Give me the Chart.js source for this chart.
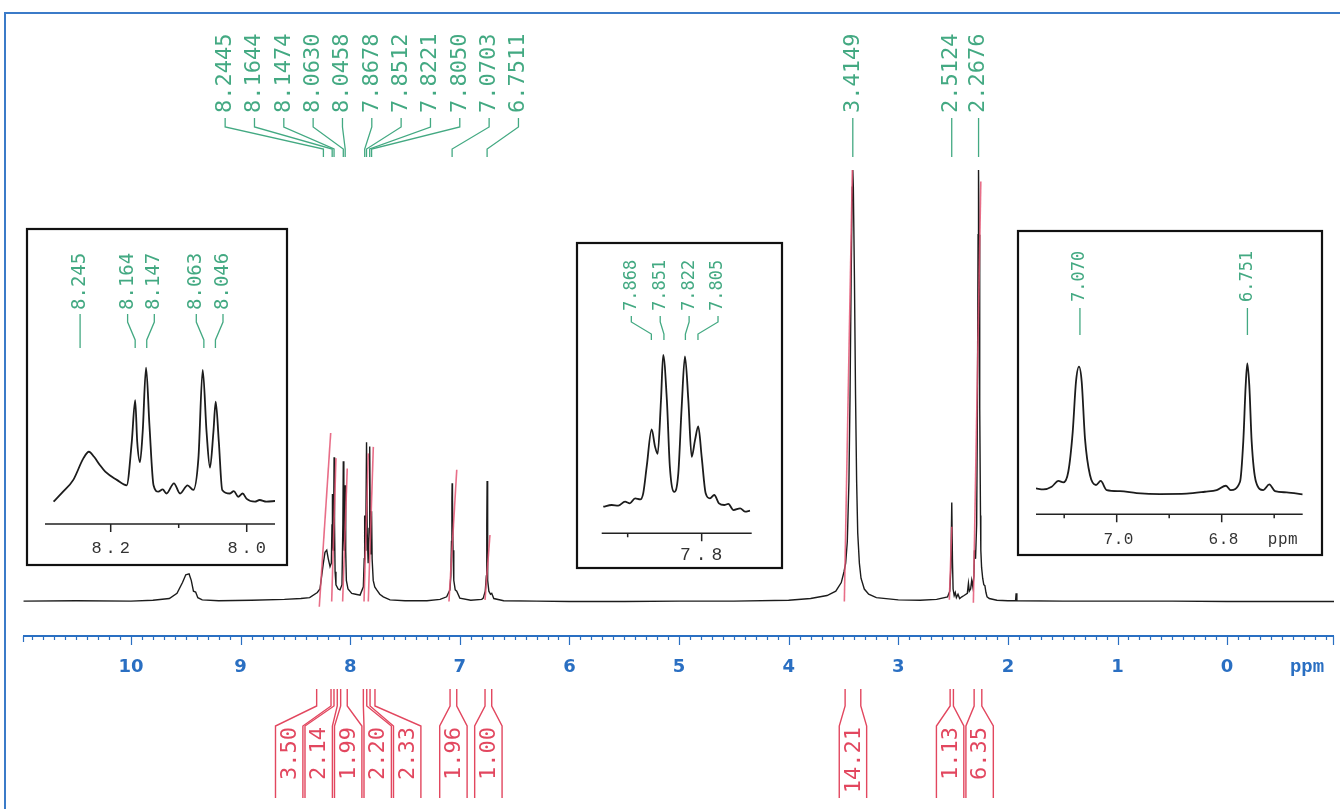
<!DOCTYPE html>
<html>
<head>
<meta charset="utf-8">
<title>1H NMR</title>
<script src="https://cdn.jsdelivr.net/npm/chart.js@4.4.1/dist/chart.umd.min.js"></script>
<style>
  html, body { margin: 0; padding: 0; background: #fff; }
  #page { position: relative; width: 1340px; height: 809px; overflow: hidden; }
  #page canvas { position: absolute; left: 0; top: 0; }
</style>
</head>
<body>
<div id="page">
  <canvas id="spectrum" width="1340" height="809"></canvas>
  <canvas id="zoom1" width="1340" height="809"></canvas>
  <canvas id="zoom2" width="1340" height="809"></canvas>
  <canvas id="zoom3" width="1340" height="809"></canvas>
</div>
<script>
// ---- spectre complet (ppm / intensité relative, 100 = pic 3.41) ----
const mainPpm = [10.98, 10.5, 10.0, 9.8, 9.65, 9.58, 9.53, 9.50, 9.47, 9.45, 9.43, 9.41, 9.39, 9.35, 9.2, 8.9, 8.6, 8.45, 8.37, 8.30, 8.276, 8.245, 8.23, 8.214, 8.20, 8.184, 8.172, 8.166, 8.164, 8.160, 8.155, 8.150, 8.147, 8.143, 8.138, 8.13, 8.11, 8.093, 8.075, 8.067, 8.063, 8.058, 8.054, 8.050, 8.046, 8.041, 8.035, 8.02, 7.986, 7.95, 7.91, 7.88, 7.872, 7.868, 7.862, 7.857, 7.851, 7.845, 7.836, 7.828, 7.822, 7.816, 7.811, 7.805, 7.800, 7.79, 7.776, 7.758, 7.73, 7.698, 7.637, 7.5, 7.3, 7.18, 7.12, 7.09, 7.082, 7.076, 7.072, 7.070, 7.067, 7.062, 7.055, 7.042, 7.028, 7.0, 6.9, 6.80, 6.786, 6.768, 6.758, 6.754, 6.751, 6.748, 6.744, 6.735, 6.72, 6.709, 6.69, 6.6, 6.3, 6.0, 5.5, 5.0, 4.5, 4.0, 3.8, 3.65, 3.57, 3.52, 3.495, 3.48, 3.465, 3.45, 3.44, 3.43, 3.42, 3.415, 3.41, 3.40, 3.39, 3.38, 3.37, 3.355, 3.34, 3.31, 3.27, 3.2, 3.0, 2.8, 2.65, 2.55, 2.53, 2.52, 2.512, 2.506, 2.50, 2.49, 2.48, 2.47, 2.455, 2.44, 2.42, 2.40, 2.37, 2.36, 2.352, 2.34, 2.33, 2.32, 2.31, 2.305, 2.295, 2.285, 2.278, 2.272, 2.268, 2.263, 2.257, 2.25, 2.247, 2.24, 2.23, 2.22, 2.21, 2.20, 2.19, 2.17, 2.1, 2.0, 1.93, 1.925, 1.918, 1.5, 1.0, 0.5, 0.0, -0.975];
const mainInt = [0.2, 0.3, 0.2, 0.4, 0.8, 2, 4.5, 6.3, 6.5, 5, 2.5, 2.3, 1, 0.5, 0.3, 0.4, 0.6, 0.8, 1, 2.2, 3, 9, 11.5, 12, 10, 8.2, 9, 18, 25, 14, 12, 22, 33.5, 18, 7, 4, 3, 2.8, 4, 18, 32.6, 16, 12, 17, 27, 12, 5, 3, 2, 1.8, 1.6, 3.5, 10, 20, 12, 18, 37, 16, 9, 17, 36, 16, 11, 21, 10, 5, 3.5, 2.8, 1.8, 1.2, 0.5, 0.3, 0.3, 0.6, 1.2, 2.8, 6, 14, 24, 27.5, 24, 12, 5, 2.8, 2.5, 0.9, 0.4, 0.6, 0.9, 2.5, 6, 18, 28, 18, 5, 2.5, 1.8, 2, 0.8, 0.3, 0.2, 0.1, 0.1, 0.2, 0.2, 0.4, 0.8, 1.5, 2.5, 4.5, 7, 9, 14, 28, 48, 75, 96, 100, 96, 75, 48, 28, 16, 9, 5.5, 3, 1.8, 1, 0.5, 0.4, 0.6, 1.2, 2.5, 8, 23, 10, 3, 1.5, 2.2, 1, 1.8, 0.8, 1.2, 1.5, 2, 4.3, 2.5, 3, 5, 3.5, 6, 12, 10, 18, 45, 85, 100, 85, 45, 20, 12, 8, 5.5, 4, 3.8, 2.2, 1.2, 0.8, 0.4, 0.3, 0.3, 2, 0.3, 0.2, 0.2, 0.2, 0.1, 0.1];

// courbes d'intégration (début / fin)
const curveStartPpm = [8.282, 8.169, 8.069, 7.874, 7.835, 7.099, 6.770, 3.492, 2.534, 2.315];
const curveStartVal = [-1.1, 0.1, 0.1, 0.1, 0.1, 0.1, 0.5, 0.1, 0.5, -0.2];
const curveEndPpm = [8.178, 8.130, 8.027, 7.835, 7.789, 7.028, 6.725, 3.419, 2.512, 2.247];
const curveEndVal = [39.1, 33.3, 30.9, 34.4, 35.9, 30.6, 15.5, 100, 17.4, 97.3];

// intégrales (bornes en ppm + valeurs)
const integralFrom = [8.306, 8.148, 8.087, 7.880, 7.819, 7.089, 6.770, 3.485, 2.527, 2.308];
const integralTo = [8.175, 8.118, 8.027, 7.849, 7.774, 7.028, 6.709, 3.342, 2.497, 2.238];
const integralValues = [3.50, 2.14, 1.99, 2.20, 2.33, 1.96, 1.00, 14.21, 1.13, 6.35];

// pics annotés
const aromaticPeaks = [8.2445, 8.1644, 8.1474, 8.0630, 8.0458, 7.8678, 7.8512, 7.8221, 7.8050, 7.0703, 6.7511];
const aliphaticPeaks = [3.4149, 2.5124, 2.2676];
const mainTicks = [10, 9, 8, 7, 6, 5, 4, 3, 2, 1, 0];

// ---- zoom 1 : 8.3 - 7.95 ppm ----
const zoom1Ppm = [8.284, 8.270, 8.255, 8.240, 8.232, 8.2245, 8.216, 8.208, 8.191, 8.1765, 8.169, 8.164, 8.161, 8.157, 8.153, 8.148, 8.143, 8.137, 8.130, 8.1235, 8.118, 8.107, 8.098, 8.087, 8.0785, 8.071, 8.0647, 8.059, 8.054, 8.049, 8.0456, 8.041, 8.036, 8.0246, 8.019, 8.0125, 8.006, 8.000, 7.988, 7.981, 7.971, 7.958];
const zoom1Int = [1, 8.3, 17, 33, 37.7, 34, 28, 23, 17, 13, 45, 75.7, 45, 30, 52, 99.5, 57, 13, 8.3, 10, 7, 14.5, 7, 13, 9.6, 33, 97.8, 52, 26, 52, 74.5, 45, 9.6, 7, 8.8, 4.6, 7, 3, 1, 2.2, 1, 1.5];
const zoom1Peaks = [8.245, 8.164, 8.147, 8.063, 8.046];
const zoom1Ticks = [8.2, 8.0];
const zoom1Minor = [8.1];

// ---- zoom 2 : 7.93 - 7.73 ppm ----
const zoom2Ppm = [7.933, 7.9216, 7.9127, 7.9036, 7.897, 7.890, 7.883, 7.879, 7.8743, 7.8676, 7.863, 7.8595, 7.855, 7.852, 7.847, 7.843, 7.837, 7.8316, 7.827, 7.8226, 7.818, 7.8135, 7.809, 7.8046, 7.800, 7.7946, 7.7888, 7.783, 7.7766, 7.7695, 7.764, 7.757, 7.748, 7.7415, 7.7347];
const zoom2Int = [0.2, 1.3, 0.9, 3.5, 2.4, 5.7, 5, 9, 26.5, 51, 39.7, 35, 70, 100, 70, 26.5, 10, 22, 66, 99, 70, 33, 44, 53, 33, 9, 5.7, 7.9, 2.4, 1.3, 2, -2, -0.9, -3, -2.4];
const zoom2Peaks = [7.868, 7.851, 7.822, 7.805];
const zoom2Ticks = [7.8];
const zoom2Minor = [7.9];

// ---- zoom 3 : 7.15 - 6.65 ppm ----
const zoom3Ppm = [7.1537, 7.1398, 7.1238, 7.111, 7.1017, 7.0922, 7.0838, 7.0775, 7.0718, 7.0667, 7.0604, 7.0509, 7.0394, 7.0305, 7.019, 6.9937, 6.962, 6.9175, 6.8667, 6.832, 6.8095, 6.7918, 6.7829, 6.7651, 6.7589, 6.7543, 6.7512, 6.7474, 6.7429, 6.7347, 6.7208, 6.7093, 6.6985, 6.6762, 6.6457];
const zoom3Int = [3.6, 2.8, 4.9, 9.3, 8.2, 16.4, 47, 86, 97.4, 86, 42, 13.9, 6.2, 9.3, 2.3, 1.5, 0, -0.8, -0.5, 1, 2.3, 5.6, 2.3, 8.7, 39.6, 83, 100, 83, 39.6, 8.7, 2.3, 6.7, 1.5, 0.5, -1];
const zoom3Peaks = [7.070, 6.751];
const zoom3Ticks = [7.0, 6.8];
const zoom3Minor = [7.1, 6.9, 6.7];

const BLUE = "#2a6fc2";
const GREEN = "#43a982";
const RED = "#e2475f";
const INK = "#1c1c1c";

const pts = (xs, ys) => xs.map((v, i) => ({ x: v, y: ys[i] }));

// écarte les étiquettes qui se chevauchent (groupes centrés sur leur moyenne)
function spread(xs, gap) {
  let groups = xs.map((x) => ({ sum: x, n: 1 }));
  let merged = true;
  while (merged) {
    merged = false;
    for (let i = 0; i < groups.length - 1; i++) {
      const a = groups[i], b = groups[i + 1];
      const aEnd = a.sum / a.n + ((a.n - 1) * gap) / 2;
      const bStart = b.sum / b.n - ((b.n - 1) * gap) / 2;
      if (bStart - aEnd < gap) {
        groups.splice(i, 2, { sum: a.sum + b.sum, n: a.n + b.n });
        merged = true;
        break;
      }
    }
  }
  const out = [];
  groups.forEach((g) => {
    const c = g.sum / g.n;
    for (let k = 0; k < g.n; k++) out.push(c + (k - (g.n - 1) / 2) * gap);
  });
  return out;
}

function vText(ctx, text, x, y, align) {
  ctx.save();
  ctx.translate(x, y);
  ctx.rotate(-Math.PI / 2);
  ctx.textAlign = align;
  ctx.textBaseline = "middle";
  ctx.fillText(text, 0, 0);
  ctx.restore();
}

// étiquettes verticales des pics + traits de rappel
function peakLabels(ctx, scale, ppms, digits, o) {
  const nat = ppms.map((p) => scale.getPixelForValue(p));
  const lx = spread(nat, o.gap);
  ctx.save();
  ctx.fillStyle = GREEN;
  ctx.strokeStyle = GREEN;
  ctx.lineWidth = 1.3;
  ctx.font = o.font;
  ppms.forEach((p, i) => {
    vText(ctx, p.toFixed(digits), lx[i], o.textBottom, "left");
    ctx.beginPath();
    ctx.moveTo(lx[i], o.top);
    ctx.lineTo(lx[i], o.bend1);
    ctx.lineTo(nat[i], o.bend2);
    ctx.lineTo(nat[i], o.bottom);
    ctx.stroke();
  });
  ctx.restore();
}

const mainDecor = {
  id: "mainDecor",
  afterDraw(chart) {
    const { ctx, chartArea: ca } = chart;
    const x = chart.scales.x;
    ctx.save();
    // cadre
    ctx.strokeStyle = "#3b7bc8";
    ctx.lineWidth = 2;
    ctx.beginPath();
    ctx.moveTo(5, 809);
    ctx.lineTo(5, 13);
    ctx.lineTo(1340, 13);
    ctx.stroke();

    // axe ppm
    const ay = 636;
    ctx.strokeStyle = BLUE;
    ctx.lineWidth = 2;
    ctx.beginPath();
    ctx.moveTo(ca.left, ay);
    ctx.lineTo(ca.right, ay);
    ctx.stroke();
    ctx.lineWidth = 1.2;
    ctx.beginPath();
    for (let k = Math.ceil(x.min * 10); k <= Math.floor(x.max * 10); k++) {
      const px = Math.round(x.getPixelForValue(k / 10)) + 0.5;
      ctx.moveTo(px, ay);
      ctx.lineTo(px, ay + (k % 10 === 0 ? 9 : 4));
    }
    ctx.moveTo(ca.left + 0.5, ay);
    ctx.lineTo(ca.left + 0.5, ay + 6);
    ctx.moveTo(ca.right - 0.5, ay);
    ctx.lineTo(ca.right - 0.5, ay + 9);
    ctx.stroke();
    ctx.fillStyle = BLUE;
    ctx.font = "bold 18px 'DejaVu Sans'";
    ctx.textAlign = "center";
    ctx.textBaseline = "middle";
    mainTicks.forEach((t) => ctx.fillText(String(t), x.getPixelForValue(t), 667));
    ctx.font = "bold 19px 'Liberation Mono'";
    ctx.fillText("ppm", ca.right - 27, 667);

    // intégrales
    const nat = integralFrom.map((a, i) => (x.getPixelForValue(a) + x.getPixelForValue(integralTo[i])) / 2);
    const cx = spread(nat, 29.5);
    ctx.strokeStyle = RED;
    ctx.fillStyle = RED;
    ctx.lineWidth = 1.4;
    ctx.font = "22px 'DejaVu Sans Mono'";
    integralValues.forEach((v, i) => {
      const xa = x.getPixelForValue(integralFrom[i]);
      const xb = x.getPixelForValue(integralTo[i]);
      const l = cx[i] - 13.7, r = cx[i] + 13.7;
      ctx.beginPath();
      ctx.moveTo(xa, 689); ctx.lineTo(xa, 706); ctx.lineTo(l, 726); ctx.lineTo(l, 798);
      ctx.moveTo(xb, 689); ctx.lineTo(xb, 706); ctx.lineTo(r, 726); ctx.lineTo(r, 798);
      ctx.stroke();
      vText(ctx, v.toFixed(2), cx[i] + 1, 727, "right");
    });
    ctx.restore();

    // étiquettes des pics
    const geo = { textBottom: 113, top: 118, bend1: 127, bend2: 149, bottom: 157, font: "22px 'DejaVu Sans Mono'" };
    peakLabels(ctx, x, aromaticPeaks, 4, { ...geo, gap: 29.33 });
    peakLabels(ctx, x, aliphaticPeaks, 4, { ...geo, gap: 26 });
  },
};

new Chart(document.getElementById("spectrum"), {
  type: "line",
  data: {
    datasets: [
      ...curveStartPpm.map((p, i) => ({
        data: [{ x: p, y: curveStartVal[i] }, { x: curveEndPpm[i], y: curveEndVal[i] }],
        borderColor: "rgba(228,85,115,0.85)",
        borderWidth: 1.6,
        pointRadius: 0,
        order: 0,
      })),
      { data: pts(mainPpm, mainInt), borderColor: INK, borderWidth: 1.4, pointRadius: 0, tension: 0, order: 1 },
    ],
  },
  options: {
    responsive: false,
    animation: false,
    events: [],
    layout: { padding: { left: 23, right: 6, top: 20, bottom: 173 } },
    scales: {
      x: { type: "linear", reverse: true, min: -0.975, max: 10.985, display: false },
      y: { min: -7.87, max: 134.7, display: false },
    },
    plugins: { legend: { display: false }, tooltip: { enabled: false } },
  },
  plugins: [mainDecor],
});

// ---- encadrés agrandis ----
function insetDecor(o) {
  return {
    id: "insetDecor",
    beforeDraw(chart) {
      const ctx = chart.ctx;
      const [x0, y0, x1, y1] = o.box;
      ctx.save();
      ctx.fillStyle = "#fff";
      ctx.fillRect(x0, y0, x1 - x0, y1 - y0);
      ctx.strokeStyle = "#111";
      ctx.lineWidth = 2.2;
      ctx.strokeRect(x0, y0, x1 - x0, y1 - y0);
      ctx.restore();
    },
    afterDraw(chart) {
      const { ctx, chartArea: ca } = chart;
      const x = chart.scales.x;
      ctx.save();
      ctx.strokeStyle = "#222";
      ctx.lineWidth = 1.5;
      ctx.beginPath();
      ctx.moveTo(ca.left, ca.bottom);
      ctx.lineTo(ca.right, ca.bottom);
      o.ticks.forEach((t) => {
        const px = x.getPixelForValue(t);
        ctx.moveTo(px, ca.bottom);
        ctx.lineTo(px, ca.bottom + 8);
      });
      o.minor.forEach((t) => {
        const px = x.getPixelForValue(t);
        ctx.moveTo(px, ca.bottom);
        ctx.lineTo(px, ca.bottom + 4);
      });
      ctx.stroke();
      ctx.fillStyle = "#333";
      ctx.font = o.tickFont;
      ctx.letterSpacing = o.spacing;
      ctx.textAlign = "center";
      ctx.textBaseline = "middle";
      o.ticks.forEach((t) => ctx.fillText(t.toFixed(1), x.getPixelForValue(t) + 2, o.tickY));
      if (o.unit) ctx.fillText("ppm", o.unit, o.tickY);
      ctx.restore();
      peakLabels(ctx, x, o.peaks, 3, o.geo);
    },
  };
}

function insetChart(id, ppm, inten, xr, yr, pad, deco) {
  return new Chart(document.getElementById(id), {
    type: "line",
    data: {
      datasets: [{
        data: pts(ppm, inten), borderColor: INK, borderWidth: 1.8, pointRadius: 0,
        cubicInterpolationMode: "monotone",
      }],
    },
    options: {
      responsive: false,
      animation: false,
      events: [],
      layout: { padding: pad },
      scales: {
        x: { type: "linear", reverse: true, min: xr[0], max: xr[1], display: false },
        y: { min: yr[0], max: yr[1], display: false },
      },
      plugins: { legend: { display: false }, tooltip: { enabled: false } },
    },
    plugins: [insetDecor(deco)],
  });
}

insetChart("zoom1", zoom1Ppm, zoom1Int, [7.9584, 8.2966], [-15.44, 149.26],
  { left: 45, right: 1065, top: 300, bottom: 285 },
  {
    box: [27, 229, 287, 565], ticks: zoom1Ticks, minor: zoom1Minor, tickY: 548,
    tickFont: "17px 'Liberation Mono'", spacing: "4px", peaks: zoom1Peaks,
    geo: { textBottom: 310, top: 314, bend1: 322, bend2: 340, bottom: 348, gap: 26.7, font: "19px 'DejaVu Sans Mono'" },
  });

insetChart("zoom2", zoom2Ppm, zoom2Int, [7.7324, 7.9351], [-17.3, 116.4],
  { left: 601.7, right: 588.3, top: 330, bottom: 275.7 },
  {
    box: [577, 243, 782, 568], ticks: zoom2Ticks, minor: zoom2Minor, tickY: 555,
    tickFont: "18px 'Liberation Mono'", spacing: "5px", peaks: zoom2Peaks,
    geo: { textBottom: 311, top: 316, bend1: 322, bend2: 334, bottom: 340, gap: 28.9, font: "17px 'DejaVu Sans Mono'" },
  });

insetChart("zoom3", zoom3Ppm, zoom3Int, [6.6457, 7.1537], [-16.4, 125.7],
  { left: 1036, right: 37.3, top: 330, bottom: 294.7 },
  {
    box: [1018, 231, 1322, 555], ticks: zoom3Ticks, minor: zoom3Minor, tickY: 540, unit: 1283,
    tickFont: "16px 'Liberation Mono'", spacing: "0.5px", peaks: zoom3Peaks,
    geo: { textBottom: 302, top: 308, bend1: 314, bend2: 328, bottom: 335, gap: 20, font: "17px 'DejaVu Sans Mono'" },
  });
</script>
</body>
</html>
